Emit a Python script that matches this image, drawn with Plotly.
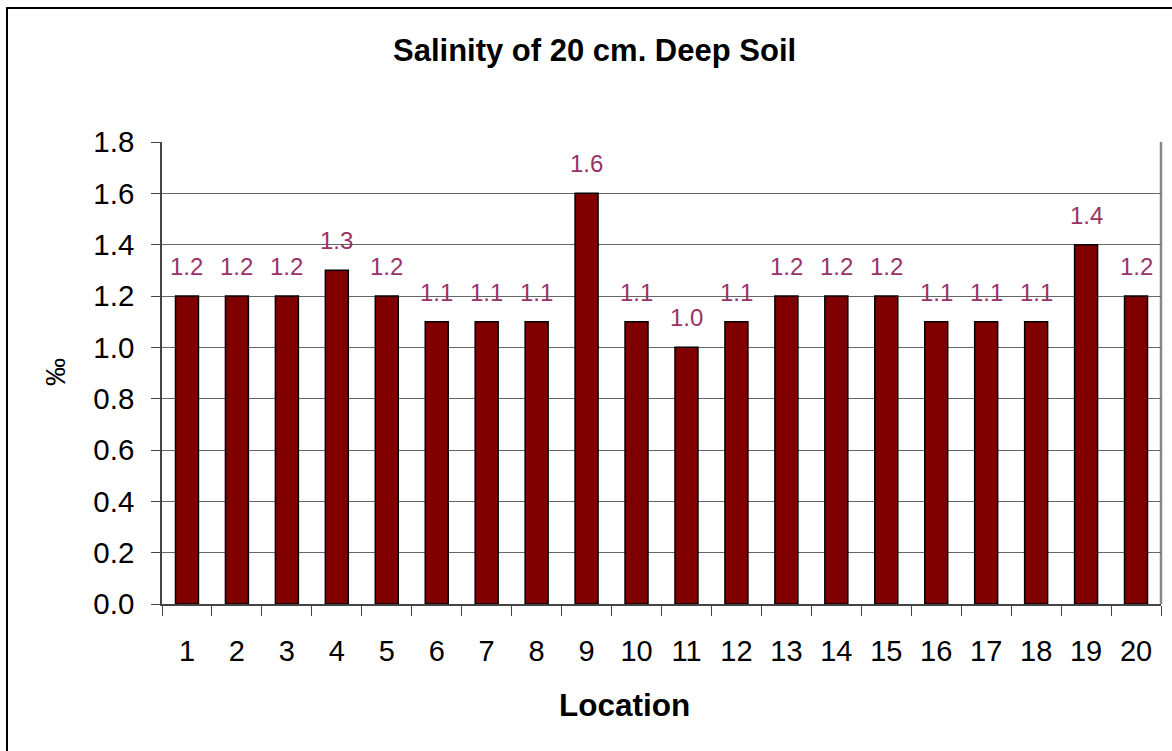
import plotly.graph_objects as go

locations = [str(i) for i in range(1, 21)]
salinity = [1.2, 1.2, 1.2, 1.3, 1.2, 1.1, 1.1, 1.1, 1.6, 1.1,
            1.0, 1.1, 1.2, 1.2, 1.2, 1.1, 1.1, 1.1, 1.4, 1.2]
y_ticks = [0.0, 0.2, 0.4, 0.6, 0.8, 1.0, 1.2, 1.4, 1.6, 1.8]
y_tick_text = [f"{v:.1f}" for v in y_ticks]

FONT = "Liberation Sans, Arial, Helvetica, sans-serif"
W, H = 1172, 751
L, R, T, B = 162, 11, 142, 147
PW, PH = W - L - R, H - T - B

def px_to_paper_x(px):
    return (px - L) / PW

def px_to_paper_y(py):
    return (H - B - py) / PH

fig = go.Figure()
fig.add_trace(go.Bar(
    x=locations, y=salinity,
    marker=dict(color="#800000", line=dict(color="#000000", width=1.5)),
    hoverinfo="x+y",
))

annotations = []
for idx, v in enumerate(salinity):
    annotations.append(dict(
        x=idx, y=v, xref="x", yref="y", text=f"{v:.1f}",
        showarrow=False, yanchor="bottom", yshift=14,
        font=dict(family=FONT, size=24, color="#993366"),
    ))

annotations.append(dict(
    x=px_to_paper_x(594), y=px_to_paper_y(50), xref="paper", yref="paper",
    text="<b>Salinity of 20 cm. Deep Soil</b>", showarrow=False,
    xanchor="center", yanchor="middle",
    font=dict(family=FONT, size=31, color="#000000"),
))
annotations.append(dict(
    x=px_to_paper_x(624), y=px_to_paper_y(705), xref="paper", yref="paper",
    text="<b>Location</b>", showarrow=False,
    xanchor="center", yanchor="middle",
    font=dict(family=FONT, size=31.5, color="#000000"),
))
annotations.append(dict(
    x=px_to_paper_x(55), y=px_to_paper_y(372), xref="paper", yref="paper",
    text="‰", showarrow=False, textangle=-90,
    xanchor="center", yanchor="middle",
    font=dict(family=FONT, size=28, color="#000000"),
))

shapes = [
    dict(type="rect", xref="paper", yref="paper",
         x0=px_to_paper_x(7), x1=px_to_paper_x(1190),
         y0=px_to_paper_y(770), y1=px_to_paper_y(8),
         line=dict(color="#000000", width=2), fillcolor="rgba(0,0,0,0)", layer="below"),
    dict(type="line", xref="paper", yref="paper", x0=1, x1=1, y0=0, y1=1,
         line=dict(color="#888888", width=2.5), layer="below"),
]

fig.update_layout(
    width=W, height=H,
    margin=dict(l=L, r=R, t=T, b=B, pad=0),
    paper_bgcolor="#ffffff", plot_bgcolor="#ffffff",
    showlegend=False,
    bargap=0.54,
    font=dict(family=FONT, color="#000000"),
    annotations=annotations,
    shapes=shapes,
    xaxis=dict(
        type="category", showgrid=False,
        showline=True, linecolor="#444444", linewidth=1.5,
        ticks="outside", tickson="boundaries", ticklen=10, tickcolor="#444444", tickwidth=1,
        tickfont=dict(family=FONT, size=29, color="#000000"),
        ticklabelstandoff=20,
    ),
    yaxis=dict(
        range=[0, 1.8], tickmode="array", tickvals=y_ticks, ticktext=y_tick_text,
        showgrid=True, gridcolor="#666666", gridwidth=1,
        showline=True, linecolor="#444444", linewidth=1.5,
        ticks="outside", ticklen=9, tickcolor="#444444", tickwidth=1,
        tickfont=dict(family=FONT, size=29.5, color="#000000"),
        ticklabelstandoff=11, zeroline=False,
    ),
)

fig.write_html("out.html", config={"displayModeBar": False},
               post_script="document.body.style.margin='0';document.body.style.overflow='hidden';")
